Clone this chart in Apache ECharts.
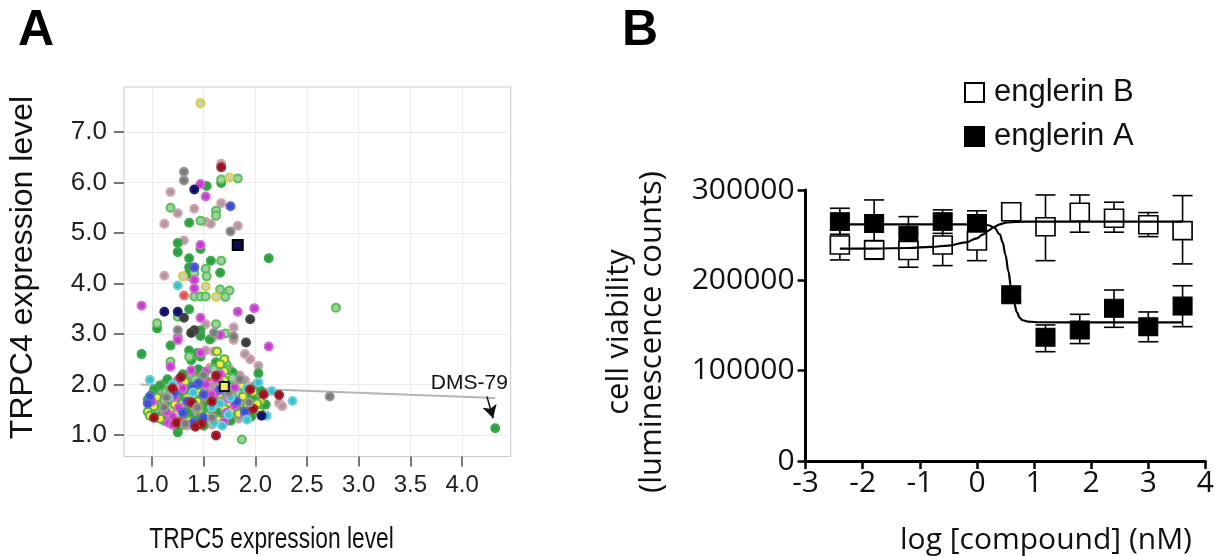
<!DOCTYPE html>
<html><head><meta charset="utf-8">
<script src="https://cdn.jsdelivr.net/npm/echarts@6/dist/echarts.min.js"></script>
<style>html,body{margin:0;padding:0;background:#fff;}#c{width:1217px;height:556px;}</style>
</head><body><div id="c"></div>
<script>
// ---------- Panel A: TRPC5 (x) vs TRPC4 (y) expression, grouped by dot colour ----------
const greenPts = [[1.53,5.93],[1.67,5.99],[1.36,5.20],[1.25,4.80],[1.25,4.62],[1.47,4.68],[2.13,4.50],[1.36,4.50],[1.57,4.45],[1.36,4.32],[1.66,4.21],[1.36,4.20],[1.36,3.49],[1.05,3.11],[1.47,3.07],[1.47,2.96],[1.56,2.89],[0.90,2.60],[1.18,2.77],[1.36,2.67],[1.47,2.55],[2.03,2.22],[4.32,1.13],[1.25,1.05],[1.62,2.44],[1.44,2.62],[1.38,2.48],[1.45,2.30],[1.30,2.20],[1.78,2.24],[1.15,2.10],[1.50,2.12],[1.08,1.98],[1.38,1.98],[1.75,2.00],[2.02,2.02],[1.02,1.90],[1.35,1.88],[1.70,1.86],[2.05,1.88],[1.00,1.80],[1.28,1.78],[1.60,1.76],[1.94,1.80],[0.96,1.70],[1.30,1.68],[1.62,1.70],[1.98,1.70],[0.98,1.60],[1.24,1.58],[1.54,1.60],[1.84,1.62],[2.10,1.60],[1.00,1.50],[1.28,1.48],[1.56,1.50],[1.82,1.46],[1.04,1.40],[1.36,1.38],[1.70,1.40],[1.96,1.36],[1.12,1.28],[1.44,1.30],[1.76,1.28],[1.26,1.16],[1.50,1.18],[1.18,1.62],[1.48,1.48],[1.66,1.46],[1.34,1.46]];
const lightGreenPts = [[1.67,6.06],[1.83,6.08],[1.18,5.50],[1.62,5.44],[1.62,5.34],[1.47,5.24],[1.67,4.45],[1.52,4.29],[1.41,4.21],[1.53,4.14],[1.66,3.88],[1.75,3.86],[1.41,3.74],[1.47,3.74],[1.52,3.74],[1.71,3.73],[2.78,3.52],[1.25,3.34],[1.05,3.21],[1.62,3.19],[1.71,3.01],[1.18,2.45],[1.87,0.91],[1.36,2.55],[1.72,2.40],[1.60,2.30],[1.72,2.30],[1.42,2.10],[1.78,2.12],[1.14,1.86],[1.84,1.82],[1.42,1.74],[1.88,1.64],[1.04,1.52]];
const pinkPts = [[1.67,6.37],[1.18,5.81],[1.25,5.39],[1.41,5.48],[1.67,5.59],[1.12,5.18],[1.52,5.22],[1.57,5.18],[1.83,5.14],[1.31,4.85],[1.36,4.14],[1.12,4.15],[1.52,3.19],[1.79,3.13],[1.79,2.88],[1.59,2.93],[1.95,2.50],[2.03,2.37],[2.23,1.63],[2.26,1.57],[1.52,2.67],[1.60,2.65],[1.90,2.60],[1.74,2.34],[1.56,2.33],[1.85,2.18],[1.35,2.12],[1.90,2.08],[1.12,2.02],[1.58,1.98],[1.95,1.96],[1.06,1.84],[1.44,1.90],[1.82,1.88],[2.10,1.84],[1.10,1.78],[1.40,1.80],[1.72,1.82],[2.02,1.76],[1.05,1.68],[1.38,1.72],[1.70,1.66],[1.86,1.68],[1.08,1.62],[1.36,1.60],[1.64,1.56],[1.96,1.58],[1.10,1.50],[1.40,1.46],[1.68,1.52],[1.94,1.50],[1.14,1.38],[1.46,1.42],[1.78,1.36],[2.06,1.42],[1.20,1.30],[1.52,1.26],[1.84,1.32],[1.34,1.18],[1.58,1.20],[1.24,1.94],[1.52,1.78],[1.30,1.56],[1.62,1.60],[1.76,1.92],[1.00,1.58],[1.48,1.32],[1.98,1.66]];
const yellowRingPts = [[1.47,7.57],[1.75,6.10],[1.30,4.14],[1.52,3.94],[1.62,3.73]];
const yellowPts = [[1.63,2.65],[1.70,2.50],[1.66,2.40],[1.70,2.26],[1.32,2.05],[1.70,2.08],[1.25,1.98],[1.48,1.96],[1.66,2.02],[1.86,1.98],[1.18,1.90],[1.50,1.86],[1.78,1.92],[1.98,1.85],[1.05,1.74],[1.34,1.74],[1.65,1.80],[1.88,1.76],[1.12,1.70],[1.44,1.66],[1.56,1.72],[1.78,1.70],[2.05,1.66],[1.02,1.56],[1.30,1.62],[1.60,1.64],[1.74,1.58],[2.02,1.62],[0.96,1.46],[1.18,1.52],[1.46,1.50],[1.76,1.48],[2.04,1.46],[0.98,1.38],[1.24,1.42],[1.54,1.38],[1.84,1.42],[1.08,1.32],[1.36,1.28],[1.64,1.30],[1.30,1.20],[1.40,1.62],[1.58,1.70],[1.22,1.60],[1.70,1.52],[1.46,1.84],[1.92,1.60]];
const salmonPts = [[1.31,3.76],[1.42,2.20],[1.55,2.05],[1.30,1.95],[1.62,1.94],[1.26,1.86],[1.56,1.90],[1.90,1.82],[1.18,1.80],[1.46,1.76],[1.54,1.82],[1.80,1.78],[1.20,1.66],[1.26,1.72],[1.50,1.68],[1.66,1.74],[1.90,1.72],[1.14,1.58],[1.20,1.64],[1.42,1.56],[1.48,1.62],[1.70,1.60],[1.90,1.56],[1.06,1.44],[1.22,1.48],[1.34,1.52],[1.52,1.44],[1.62,1.48],[1.86,1.52],[1.10,1.42],[1.30,1.36],[1.42,1.34],[1.60,1.42],[1.66,1.36],[1.28,1.32],[1.56,1.30],[1.16,1.70],[1.36,1.82],[1.44,1.72],[1.60,1.86],[1.74,1.64],[1.38,1.58],[1.28,1.64],[1.52,1.56],[1.84,1.70],[1.12,1.52]];
const magentaPts = [[1.47,5.97],[1.52,5.72],[1.47,4.76],[1.41,4.07],[1.41,3.90],[0.90,3.56],[1.83,3.44],[1.99,3.51],[1.47,3.32],[1.25,2.93],[1.66,2.98],[2.13,2.75],[1.18,2.35],[1.47,2.62],[1.25,2.88],[1.38,2.28],[1.52,2.25],[1.66,2.20],[1.25,2.08],[1.62,2.10],[1.52,2.00],[1.80,1.94],[1.30,1.92],[1.62,1.84],[1.22,1.76],[1.58,1.80],[1.00,1.66],[1.74,1.72],[1.26,1.54],[1.80,1.58],[1.14,1.46],[1.72,1.44],[1.20,1.36],[1.90,1.40],[1.16,1.24],[1.70,1.26],[1.20,1.20]];
const bluePts = [[1.76,5.53],[1.41,4.32],[1.45,2.02],[1.40,1.94],[1.22,1.84],[1.66,1.90],[0.98,1.76],[1.50,1.80],[1.34,1.66],[1.82,1.66],[0.96,1.62],[1.58,1.56],[1.30,1.44],[1.90,1.46],[1.50,1.34],[1.40,1.24]];
const cyanPts = [[1.25,3.96],[0.98,2.09],[2.03,2.04],[2.16,1.87],[2.36,1.67],[2.11,1.38],[1.20,2.00],[1.92,1.92],[1.40,1.84],[1.76,1.74],[1.16,1.74],[1.66,1.62],[1.58,1.54],[1.74,1.40],[1.60,1.24],[1.92,1.30],[1.68,1.18]];
const darkRedPts = [[1.67,6.30],[2.23,1.79],[1.62,0.99],[1.62,2.17],[1.28,2.14],[1.20,1.92],[1.95,1.90],[2.08,1.80],[1.58,1.66],[1.38,1.64],[1.98,1.52],[1.02,1.34],[1.24,1.24],[1.48,1.22],[1.42,1.16]];
const grayPts = [[1.31,6.21],[1.31,6.04],[1.76,5.03],[1.25,3.07],[1.79,2.95],[2.72,1.76],[1.60,3.02],[1.50,2.18],[1.85,2.10],[1.74,1.84],[1.14,1.74],[1.94,1.64],[1.12,1.54],[1.44,1.54],[1.58,1.34],[1.32,1.22]];
const darkGrayPts = [[1.31,3.32],[1.95,3.29],[1.41,3.07],[1.91,2.83],[1.38,3.02]];
const navyPts = [[1.41,5.86],[1.12,3.44],[1.25,3.44],[2.06,1.38]];
const navySquarePts = [[1.83,4.76]];
const highlightPts = [[1.70,1.96]];
const regLine = [[0.89,2.00],[4.32,1.73]];
const dmsLabelPos = [[4.07,2.02]];
const dmsArrow = [[4.24,1.76],[4.30,1.33]];
const xTicksA = [1.0,1.5,2.0,2.5,3.0,3.5,4.0];
const yTicksA = [1,2,3,4,5,6,7];

// ---------- Panel B: cell viability vs log[compound] ----------
const doseLog = [-2.4,-1.8,-1.2,-0.6,0,0.6,1.2,1.8,2.4,3.0,3.6];
const engA_mean = [265000,263000,250000,265000,263000,184000,137000,145000,169000,148500,171500];
const engA_low  = [251000,238000,230000,252000,249000,177000,121000,130000,148000,132000,148700];
const engA_high = [279800,289000,270500,278000,277000,191000,150600,162400,189300,165000,194000];
const engB_mean = [239200,233700,233000,239200,243600,276000,259400,275400,268800,261500,255000];
const engB_low  = [222600,223300,214500,216300,221800,268000,221800,253300,253300,248400,218200];
const engB_high = [256000,244000,252000,262000,265400,284000,294500,294500,286500,275000,293800];
const fitA_x = [-2.4,-1.5,-0.5,0,0.2,0.3,0.4,0.45,0.5,0.55,0.6,0.65,0.7,0.75,0.8,0.9,1.1,2.0,3.6];
const fitA_y = [262000,262000,262000,261800,261000,258500,251000,242000,228000,210000,191000,175000,164500,158500,155800,154200,153600,153500,153500];
const fitB_x = [-2.4,-1.8,-1.2,-0.8,-0.5,-0.2,0,0.1,0.2,0.3,0.4,0.5,0.7,1.0,3.6];
const fitB_y = [235000,235200,235800,237000,238500,242000,246500,250500,255000,259000,262000,263800,264800,265000,265000];

const SANS = '"Liberation Sans", Arial, Helvetica, sans-serif';
const HUM = '"Open Sans", "Noto Sans", sans-serif';

function dots(name, data, fill, border, sym, size){
  return {type:'scatter', name:name, xAxisIndex:0, yAxisIndex:0, data:data, symbol:sym||'circle', symbolSize:size||8,
    itemStyle:{color:fill, borderColor:border, borderWidth:2, opacity:1}, emphasis:{disabled:true}, z:3, silent:true};
}
function errRender(params, api){
  const x=api.value(0), lo=api.value(1), hi=api.value(2);
  const p1=api.coord([x,lo]), p2=api.coord([x,hi]); const w=10;
  const st={stroke:'#000', lineWidth:1.6};
  return {type:'group', children:[
    {type:'line', shape:{x1:p1[0],y1:p1[1],x2:p2[0],y2:p2[1]}, style:st},
    {type:'line', shape:{x1:p1[0]-w,y1:p1[1],x2:p1[0]+w,y2:p1[1]}, style:st},
    {type:'line', shape:{x1:p2[0]-w,y1:p2[1],x2:p2[0]+w,y2:p2[1]}, style:st}
  ]};
}
const zip2 = (xs, ys) => xs.map((x,i)=>[x, ys[i]]);
const zip3 = (xs, a, b) => xs.map((x,i)=>[x, a[i], b[i]]);

const option = {
  animation:false,
  backgroundColor:'#fff',
  grid:[
    {left:124, top:87, width:386.7, height:369.6, show:true, borderColor:'#c9c9c9', borderWidth:1, backgroundColor:'#fff'},
    {left:805.6, top:190, width:409.5, height:271}
  ],
  xAxis:[
    {type:'value', gridIndex:0, min:0.73, max:4.47, minInterval:0.25, maxInterval:0.25,
     axisLine:{show:false},
     axisTick:{show:true, length:10, customValues:xTicksA, lineStyle:{color:'#4a4a4a', width:1.5}},
     axisLabel:{show:true, customValues:xTicksA, margin:17, fontSize:24, fontFamily:SANS, color:'#222', formatter:v=>v.toFixed(1)},
     splitLine:{show:true, lineStyle:{color:'#ececec', width:1}}},
    {type:'value', gridIndex:1, min:-3, max:4, interval:1,
     axisLine:{show:true, onZero:false, lineStyle:{color:'#000', width:3}},
     axisTick:{show:true, length:8, lineStyle:{color:'#000', width:2.5}},
     axisLabel:{margin:7, fontSize:30, fontFamily:HUM, color:'#111'},
     splitLine:{show:false}}
  ],
  yAxis:[
    {type:'value', gridIndex:0, min:0.57, max:7.89, minInterval:0.5, maxInterval:0.5,
     axisLine:{show:false},
     axisTick:{show:true, length:10, customValues:yTicksA, lineStyle:{color:'#4a4a4a', width:1.5}},
     axisLabel:{show:true, customValues:yTicksA, margin:17, fontSize:26, fontFamily:SANS, color:'#222', formatter:v=>v.toFixed(1)},
     splitLine:{show:true, lineStyle:{color:'#ececec', width:1}}},
    {type:'value', gridIndex:1, min:0, max:300000, interval:100000,
     axisLine:{show:true, onZero:false, lineStyle:{color:'#000', width:3}},
     axisTick:{show:true, length:8, lineStyle:{color:'#000', width:2.5}},
     axisLabel:{margin:11, fontSize:30, fontFamily:HUM, color:'#111', formatter:v=>String(v)},
     splitLine:{show:false}}
  ],
  legend:{data:['englerin B','englerin A'], orient:'vertical', left:959, top:72, itemWidth:19, itemHeight:19, itemGap:13,
    icon:'rect', selectedMode:false, textStyle:{fontSize:31, fontFamily:SANS, color:'#111', padding:[0,0,0,5]}},
  graphic:[
    {type:'text', x:18, y:31, style:{text:'A', font:'bold 50px '+SANS, fill:'#000', align:'left', verticalAlign:'middle'}},
    {type:'text', x:622, y:31, style:{text:'B', font:'bold 50px '+SANS, fill:'#000', align:'left', verticalAlign:'middle'}},
    {type:'text', x:271.5, y:540, scaleX:0.76, style:{text:'TRPC5 expression level', font:'30px '+SANS, fill:'#111', align:'center', verticalAlign:'middle'}},
    {type:'text', x:23, y:267.5, rotation:Math.PI/2, style:{text:'TRPC4 expression level', font:'32px '+SANS, fill:'#111', align:'center', verticalAlign:'middle'}},
    {type:'text', x:619, y:332, rotation:Math.PI/2, style:{text:'cell viability', font:'31px '+HUM, fill:'#111', align:'center', verticalAlign:'middle'}},
    {type:'text', x:652, y:332, rotation:Math.PI/2, style:{text:'(luminescence counts)', font:'31px '+HUM, fill:'#111', align:'center', verticalAlign:'middle'}},
    {type:'text', x:1046, y:540, style:{text:'log [compound] (nM)', font:'30px '+HUM, fill:'#111', align:'center', verticalAlign:'middle'}}
  ],
  series:[
    {type:'line', name:'fit', xAxisIndex:0, yAxisIndex:0, data:regLine, symbol:'none', lineStyle:{color:'#b5b5b5', width:2}, z:2, silent:true},
    dots('salmon', salmonPts, '#e05252', '#ea7a7a'),
    dots('pink', pinkPts, '#a89ca2', '#dba3b3'),
    dots('green', greenPts, '#2e9e40', '#3bab4c'),
    dots('lightgreen', lightGreenPts, '#a3cfa3', '#56c156'),
    dots('yellow', yellowPts, '#f0ef3e', '#5bb04a'),
    dots('magenta', magentaPts, '#c23fc9', '#d468d6'),
    dots('blue', bluePts, '#3f4fd2', '#5a66d8'),
    dots('cyan', cyanPts, '#3cc0c9', '#72d2da'),
    dots('darkred', darkRedPts, '#9a1020', '#a52a36'),
    dots('gray', grayPts, '#7a7a7a', '#989898'),
    dots('darkgray', darkGrayPts, '#3a3a3a', '#4a4a4a'),
    dots('navy', navyPts, '#101060', '#22227a'),
    dots('yellowring', yellowRingPts, '#cfd0b4', '#d6cf4a'),
    dots('navysq', navySquarePts, '#0c0c50', '#000', 'rect', 10),
    dots('highlight', highlightPts, '#f2ee5a', '#111', 'rect', 9),
    {type:'scatter', name:'DMS-79', xAxisIndex:0, yAxisIndex:0, data:dmsLabelPos, symbol:'circle', symbolSize:1,
     itemStyle:{color:'rgba(0,0,0,0)', opacity:1}, silent:true, z:6,
     label:{show:true, position:'inside', formatter:'DMS-79', fontSize:21, fontFamily:SANS, color:'#111', opacity:1, textBorderWidth:0},
     markLine:{silent:true, symbol:['none','arrow'], symbolSize:[11,13], label:{show:false},
       lineStyle:{color:'#111', width:1.5, type:'solid', opacity:1},
       data:[[{coord:dmsArrow[0]},{coord:dmsArrow[1]}]]}},
    // Panel B
    {type:'custom', name:'errA', xAxisIndex:1, yAxisIndex:1, data:zip3(doseLog, engA_low, engA_high), renderItem:errRender, encode:{x:0,y:[1,2]}, z:2, silent:true},
    {type:'custom', name:'errB', xAxisIndex:1, yAxisIndex:1, data:zip3(doseLog, engB_low, engB_high), renderItem:errRender, encode:{x:0,y:[1,2]}, z:2, silent:true},
    {type:'scatter', name:'englerin A', xAxisIndex:1, yAxisIndex:1, data:zip2(doseLog, engA_mean), symbol:'rect', symbolSize:[19,18],
     itemStyle:{color:'#000', borderColor:'#000', borderWidth:1, opacity:1}, z:3, silent:true},
    {type:'scatter', name:'englerin B', xAxisIndex:1, yAxisIndex:1, data:zip2(doseLog, engB_mean), symbol:'rect', symbolSize:[19,18],
     itemStyle:{color:'#fff', borderColor:'#000', borderWidth:1.6, opacity:1}, z:4, silent:true},
    {type:'line', name:'fitA', xAxisIndex:1, yAxisIndex:1, data:zip2(fitA_x, fitA_y), symbol:'none', smooth:0.4, smoothMonotone:'x', lineStyle:{color:'#000', width:2.2}, z:5, silent:true},
    {type:'line', name:'fitB', xAxisIndex:1, yAxisIndex:1, data:zip2(fitB_x, fitB_y), symbol:'none', smooth:0.4, smoothMonotone:'x', lineStyle:{color:'#000', width:2.2}, z:5, silent:true}
  ]
};
const chart = echarts.init(document.getElementById('c'), null, {renderer:'canvas'});
chart.setOption(option);
</script></body></html>
